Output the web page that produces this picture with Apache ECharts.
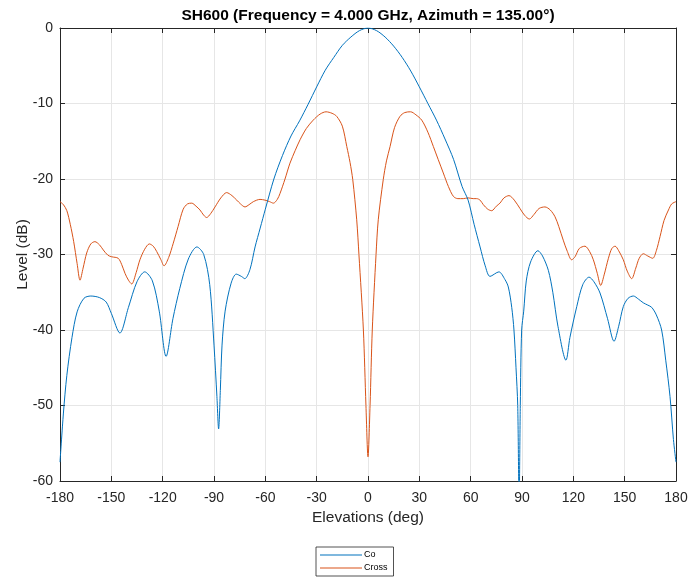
<!DOCTYPE html>
<html>
<head>
<meta charset="utf-8">
<script src="https://cdn.jsdelivr.net/npm/echarts@6/dist/echarts.min.js"></script>
<style>
  html, body { margin: 0; padding: 0; background: #ffffff; }
  #chart { width: 689px; height: 577px; }
</style>
</head>
<body>
<div id="chart"></div>
<script>
// Elevation cut of the SH600 pattern at 4 GHz, azimuth 135°
const xTicks = [-180, -150, -120, -90, -60, -30, 0, 30, 60, 90, 120, 150, 180];
const yTicks = [-60, -50, -40, -30, -20, -10, 0];

// Co-polar level (dB) vs elevation (deg)
const coAngles = [
  -180, -178, -176, -173, -170, -166, -162, -157, -153, -150, -145, -140, -135, -130.5, -126,
  -122, -118, -114, -110, -105, -100, -96, -92.5, -90, -88.3, -87.3, -86.3, -85.3, -83.5, -80,
  -77, -74, -72, -69, -66, -63, -60, -55, -50, -45, -40, -35, -30, -25, -20,
  -15, -10, -5, 0, 5, 10, 15, 20, 25, 30, 35, 40, 45, 50, 55,
  58.5, 62, 65.5, 68.5, 71.3, 76.5, 80, 82, 84, 85.3, 86.5, 87.5, 88.3, 89, 89.8,
  91, 92.5, 95, 99.3, 102, 105.4, 108, 111, 115.7, 118, 122, 125.5, 129.2, 132, 135.6,
  140, 143.8, 146.5, 149.2, 152, 155.1, 158, 160.9, 163.5, 165.8, 168.5, 171.6, 174, 176.5, 178.5,
  180
];
const coLevels = [
  -57.5, -51, -46, -41, -37.6, -35.8, -35.5, -35.7, -36.3, -37.8, -40.4, -37, -33.6, -32.3, -33.5,
  -37.5, -43.5, -38.5, -34.5, -30.6, -29.0, -30, -34, -42, -48.8, -53.1, -48, -42, -37.5, -33.8,
  -32.6, -32.9, -33.2, -32, -29, -26.5, -24, -20.0, -16.9, -14.3, -12.3, -10.1, -7.8, -5.6, -3.9,
  -2.3, -1.2, -0.35, 0, -0.35, -1.2, -2.4, -3.9, -5.7, -7.8, -10.0, -12.2, -14.7, -17.4, -21,
  -22.8, -26, -29, -31.5, -32.9, -32.3, -33.3, -34.3, -37, -40, -45, -50, -63, -50, -40,
  -37.5, -33.5, -31, -29.5, -30.2, -32.1, -35, -39.5, -44.0, -41, -36.9, -34, -33.0, -33.6, -35.1,
  -38.5, -41.5, -39.5, -36.9, -35.8, -35.5, -35.9, -36.4, -36.7, -37.0, -38, -40.0, -44, -48.8, -54.5,
  -57.5
];

// Cross-polar level (dB) vs elevation (deg)
const crossAngles = [
  -180, -178, -176, -174, -172, -170, -168.3, -166.5, -164.4, -162, -159.6, -157, -154.7, -152, -149.8,
  -146, -144, -142, -140, -138.1, -135.5, -133.3, -130.5, -127.8, -125.5, -123.5, -121, -119.2, -116.5, -113.8,
  -111, -108, -105.5, -103, -100.5, -98.2, -96, -94.3, -92, -89.4, -86, -82.6, -79.5, -76.7, -74.5,
  -71.9, -69.5, -67, -63.1, -60.2, -57.5, -55.3, -53, -51.4, -48.5, -45.6, -42.5, -39.7, -36, -32,
  -28, -24.5, -21, -18.3, -15, -12.4, -10.5, -8.9, -6.6, -5.3, -2.7, -1.2, 0, 1.2, 2.5,
  4.7, 6.0, 8.9, 10.8, 12.9, 15.5, 18.7, 21.5, 24.9, 28, 31.4, 35, 38.2, 41, 44.0,
  47, 49.9, 52.5, 55.7, 58.5, 61.5, 63.5, 65.5, 67.4, 70, 72.3, 75, 77.1, 79.5, 82.4,
  85.5, 88.8, 91.5, 94.3, 97, 100, 103.4, 106.5, 109.3, 111.5, 114.1, 116.5, 119.0, 121, 123.5,
  126.8, 129.5, 131.7, 134, 136.0, 138, 140.5, 142.5, 144.4, 146.5, 149.2, 151.5, 154.1, 156.5, 158.5,
  160.9, 163.5, 166.4, 168.5, 170.7, 173, 175.6, 177.5, 180
];
const crossLevels = [
  -23.0, -23.4, -24.2, -26, -28.3, -31.2, -33.4, -31.8, -29.8, -28.6, -28.3, -28.7, -29.4, -30.1, -30.3,
  -30.5, -31.3, -32.5, -33.4, -33.9, -32.4, -30.7, -29.3, -28.6, -28.9, -29.6, -30.7, -31.5, -30.4, -28.5,
  -26.3, -24.0, -23.3, -23.2, -23.6, -24.1, -24.8, -25.1, -24.6, -23.7, -22.5, -21.8, -22.2, -22.8, -23.3,
  -23.7, -23.4, -23.0, -22.7, -22.8, -23.0, -23.2, -22.7, -21.9, -20, -17.9, -16.2, -14.8, -13.3, -12.2,
  -11.4, -11.1, -11.3, -11.7, -13.0, -15.7, -17.8, -20.1, -25.4, -30, -40, -50, -56.8, -50, -40,
  -30, -25.4, -20.1, -17.6, -15.7, -13.2, -11.7, -11.2, -11.1, -11.5, -12.2, -13.8, -15.7, -17.4, -19.2,
  -21, -22.3, -22.6, -22.6, -22.5, -22.6, -22.6, -22.8, -23.4, -24.0, -24.2, -23.6, -23.2, -22.5, -22.2,
  -22.8, -23.9, -24.8, -25.3, -24.7, -23.9, -23.7, -24.1, -25.0, -26.3, -28.1, -29.6, -30.7, -30.3, -29.2,
  -28.9, -29.6, -30.7, -32.5, -34.1, -32.7, -30.5, -29.2, -28.9, -29.5, -30.7, -32.2, -33.2, -31.8, -30.5,
  -29.9, -30.2, -30.5, -29.5, -27.6, -25.5, -24.1, -23.3, -23.0
];

const pairs = (xs, ys) => xs.map((x, i) => [x, ys[i]]);

const FONT = "'Liberation Sans', Arial, Helvetica, sans-serif";
const AXIS_COLOR = '#262626';
const GRID_COLOR = '#e6e6e6';

const tickLabel = { color: AXIS_COLOR, fontFamily: FONT, fontSize: 14 };
const boxAxisLine = { show: true, onZero: false, lineStyle: { color: AXIS_COLOR, width: 1 } };
const innerTick = { show: true, inside: true, length: 5, lineStyle: { color: AXIS_COLOR } };

const chart = echarts.init(document.getElementById('chart'), null, { renderer: 'canvas' });

chart.setOption({
  animation: false,
  backgroundColor: '#ffffff',
  title: {
    text: 'SH600 (Frequency = 4.000 GHz, Azimuth = 135.00°)',
    left: 368,
    top: 8,
    padding: 0,
    textAlign: 'center',
    textStyle: { fontFamily: FONT, fontSize: 15.5, fontWeight: 'bold', color: '#000000' }
  },
  grid: { left: 60, right: 13, top: 28, bottom: 96, containLabel: false, outerBoundsMode: 'none' },
  legend: {
    orient: 'vertical',
    left: 316,
    top: 547,
    height: 60,
    data: ['Co', 'Cross'],
    icon: 'rect',
    itemWidth: 42,
    itemHeight: 1.2,
    itemGap: 3,
    padding: [3, 6, 3, 4],
    borderColor: '#262626',
    borderWidth: 0.8,
    textStyle: { fontFamily: FONT, fontSize: 9, color: '#000000', lineHeight: 10, padding: [0, 0, 0, -3] }
  },
  xAxis: [
    {
      type: 'value',
      min: xTicks[0],
      max: xTicks[xTicks.length - 1],
      interval: 30,
      name: 'Elevations (deg)',
      nameLocation: 'middle',
      nameGap: 29,
      nameMoveOverlap: false,
      nameTextStyle: { fontFamily: FONT, fontSize: 15.5, color: AXIS_COLOR },
      axisLine: boxAxisLine,
      axisTick: innerTick,
      axisLabel: Object.assign({ margin: 10 }, tickLabel),
      splitLine: { show: true, lineStyle: { color: GRID_COLOR, width: 1 } }
    },
    {
      type: 'value',
      position: 'top',
      min: xTicks[0],
      max: xTicks[xTicks.length - 1],
      interval: 30,
      axisLine: boxAxisLine,
      axisTick: innerTick,
      axisLabel: { show: false },
      splitLine: { show: false }
    }
  ],
  yAxis: [
    {
      type: 'value',
      min: yTicks[0],
      max: yTicks[yTicks.length - 1],
      interval: 10,
      name: 'Level (dB)',
      nameLocation: 'middle',
      nameGap: 29,
      nameMoveOverlap: false,
      nameTextStyle: { fontFamily: FONT, fontSize: 15.5, color: AXIS_COLOR },
      axisLine: boxAxisLine,
      axisTick: innerTick,
      axisLabel: Object.assign({ margin: 7 }, tickLabel),
      splitLine: { show: true, lineStyle: { color: GRID_COLOR, width: 1 } }
    },
    {
      type: 'value',
      position: 'right',
      min: yTicks[0],
      max: yTicks[yTicks.length - 1],
      interval: 10,
      axisLine: boxAxisLine,
      axisTick: innerTick,
      axisLabel: { show: false },
      splitLine: { show: false }
    }
  ],
  series: [
    {
      name: 'Co',
      type: 'line',
      data: pairs(coAngles, coLevels),
      showSymbol: false,
      smooth: 0.3,
      clip: true,
      color: '#0072BD',
      lineStyle: { color: '#0072BD', width: 1 },
      z: 3
    },
    {
      name: 'Cross',
      type: 'line',
      data: pairs(crossAngles, crossLevels),
      showSymbol: false,
      smooth: 0.3,
      clip: true,
      color: '#D95319',
      lineStyle: { color: '#D95319', width: 1 },
      z: 2
    }
  ]
});
</script>
</body>
</html>
